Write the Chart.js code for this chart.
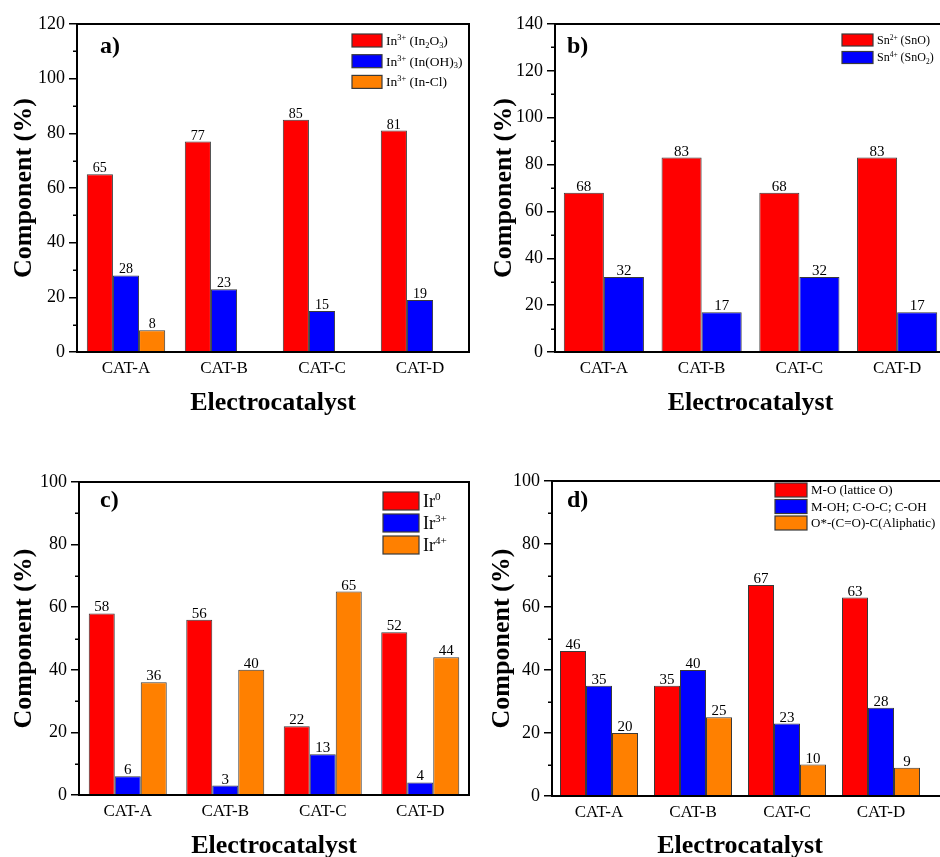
<!DOCTYPE html>
<html>
<head>
<meta charset="utf-8">
<title>XPS component fractions</title>
<script src="https://cdn.jsdelivr.net/npm/chart.js@4.4.1/dist/chart.umd.min.js"></script>
<style>
  html, body { margin: 0; padding: 0; background: #fff; }
  body { position: relative; width: 940px; height: 857px; overflow: hidden; }
  canvas { position: absolute; }
</style>
</head>
<body>
<canvas id="chartA" width="480" height="430" style="left:0px;top:0px"></canvas>
<canvas id="chartB" width="480" height="430" style="left:480px;top:0px"></canvas>
<canvas id="chartC" width="480" height="430" style="left:0px;top:440px"></canvas>
<canvas id="chartD" width="480" height="430" style="left:480px;top:440px"></canvas>
<script>
const categories = ['CAT-A', 'CAT-B', 'CAT-C', 'CAT-D'];

// a) In 3d
const inLabels = ['In^{3+} (In_{2}O_{3})', 'In^{3+} (In(OH)_{3})', 'In^{3+} (In-Cl)'];
const inOxide = [65, 77, 85, 81];
const inHydroxide = [28, 23, 15, 19];
const inChloride = [8, null, null, null];

// b) Sn 3d
const snLabels = ['Sn^{2+} (SnO)', 'Sn^{4+} (SnO_{2})'];
const snTwo = [68, 83, 68, 83];
const snFour = [32, 17, 32, 17];

// c) Ir 4f
const irLabels = ['Ir^{0}', 'Ir^{3+}', 'Ir^{4+}'];
const irZero = [58, 56, 22, 52];
const irThree = [6, 3, 13, 4];
const irFour = [36, 40, 65, 44];

// d) O 1s
const oLabels = ['M-O (lattice O)', 'M-OH; C-O-C; C-OH', 'O*-(C=O)-C(Aliphatic)'];
const oLattice = [46, 35, 67, 63];
const oHydroxyl = [35, 40, 23, 28];
const oCarbonyl = [20, 25, 10, 9];

const yMaxA = 120, yMaxB = 140, yMaxC = 100, yMaxD = 100;

const RED = '#ff0000', BLUE = '#0000ff', ORANGE = '#ff8000';
const SERIF = "'Liberation Serif', 'Times New Roman', serif";

// draws text with ^{..} superscripts and _{..} subscripts
function drawRich(ctx, text, x, midY, size) {
    const parts = text.split(/(\^\{[^}]*\}|_\{[^}]*\})/).filter(s => s.length);
    const base = midY + size * 0.33;
    ctx.textAlign = 'left';
    ctx.textBaseline = 'alphabetic';
    let cx = x;
    for (const p of parts) {
        let s = p, sz = size, dy = 0;
        if (p.startsWith('^{')) { s = p.slice(2, -1); sz = size * 0.62; dy = -size * 0.36; }
        else if (p.startsWith('_{')) { s = p.slice(2, -1); sz = size * 0.62; dy = size * 0.2; }
        ctx.font = `${sz}px ${SERIF}`;
        ctx.fillText(s, cx, base + dy);
        cx += ctx.measureText(s).width;
    }
}

function makePanel(id, p) {
    const datasets = p.series.map((data, i) => ({
        label: p.labels[i],
        data: data,
        backgroundColor: p.colors[i],
        borderColor: '#3a3a3a',
        borderWidth: 1,
        categoryPercentage: p.catPct,
        barPercentage: 1.0
    }));

    const decor = {
        id: 'decor',
        afterDatasetsDraw(chart) {
            const ctx = chart.ctx;
            // value labels above each bar
            ctx.save();
            ctx.fillStyle = '#000';
            ctx.font = `${p.valueSize}px ${SERIF}`;
            ctx.textAlign = 'center';
            ctx.textBaseline = 'alphabetic';
            chart.data.datasets.forEach((ds, di) => {
                chart.getDatasetMeta(di).data.forEach((el, i) => {
                    const v = ds.data[i];
                    if (v === null || v === undefined) return;
                    ctx.fillText(String(v), el.x, el.y - 2);
                });
            });
            ctx.restore();
        },
        afterDraw(chart) {
            const ctx = chart.ctx;
            const a = chart.chartArea;
            const yScale = chart.scales.y;
            ctx.save();
            // frame (panel d runs past the page edge)
            ctx.strokeStyle = '#000';
            ctx.lineWidth = 2;
            const right = a.right + (p.frameExtra || 0);
            ctx.strokeRect(a.left, a.top, right - a.left, a.bottom - a.top);
            // minor ticks
            ctx.lineWidth = 1.5;
            ctx.beginPath();
            for (let v = 10; v < p.yMax; v += 20) {
                const y = Math.round(yScale.getPixelForValue(v)) + 0.25;
                ctx.moveTo(a.left - 4, y);
                ctx.lineTo(a.left, y);
            }
            ctx.stroke();
            // panel letter
            ctx.fillStyle = '#000';
            ctx.font = `bold 24px ${SERIF}`;
            ctx.textAlign = 'left';
            ctx.textBaseline = 'alphabetic';
            ctx.fillText(p.letter, a.left + p.letterPos[0], a.top + p.letterPos[1]);
            // legend
            const L = p.legend;
            chart.data.datasets.forEach((ds, i) => {
                const cy = a.top + L.top + i * L.step;
                const bx = a.left + L.left;
                ctx.fillStyle = ds.backgroundColor;
                ctx.fillRect(bx, cy - L.boxH / 2, L.boxW, L.boxH);
                ctx.strokeStyle = '#3a3a3a';
                ctx.lineWidth = 1.2;
                ctx.strokeRect(bx, cy - L.boxH / 2, L.boxW, L.boxH);
                ctx.fillStyle = '#000';
                drawRich(ctx, ds.label, bx + L.boxW + 4, cy, L.size);
            });
            ctx.restore();
        }
    };

    return new Chart(document.getElementById(id), {
        type: 'bar',
        data: { labels: categories, datasets: datasets },
        plugins: [decor],
        options: {
            responsive: false,
            animation: false,
            devicePixelRatio: 1,
            layout: { padding: { top: p.padTop, right: p.padRight, left: 0, bottom: 0 } },
            plugins: { legend: { display: false }, tooltip: { enabled: false } },
            scales: {
                x: {
                    grid: { display: false, drawTicks: false },
                    border: { display: false },
                    ticks: { color: '#000', font: { family: SERIF, size: 17 }, padding: 6 },
                    title: {
                        display: true, text: 'Electrocatalyst', color: '#000',
                        font: { family: SERIF, size: 26, weight: 'bold' },
                        padding: { top: 0, bottom: p.xTitlePad }
                    },
                    afterFit: s => { s.height = p.xHeight; }
                },
                y: {
                    min: 0,
                    max: p.yMax,
                    ticks: { stepSize: 20, color: '#000', font: { family: SERIF, size: 18 }, padding: 4 },
                    grid: { drawOnChartArea: false, drawTicks: true, tickLength: 8, color: '#000', lineWidth: 1.5 },
                    border: { display: false },
                    title: {
                        display: true, text: 'Component (%)', color: '#000',
                        font: { family: SERIF, size: 26, weight: 'bold' },
                        padding: { top: p.yTitlePad, bottom: 0 }
                    },
                    afterFit: s => { s.width = p.yWidth; }
                }
            }
        }
    });
}

makePanel('chartA', {
    series: [inOxide, inHydroxide, inChloride], labels: inLabels, colors: [RED, BLUE, ORANGE],
    yMax: yMaxA, catPct: 0.8, padTop: 24, padRight: 11, yWidth: 77, xHeight: 78,
    xTitlePad: 11, yTitlePad: 9, valueSize: 14, letter: 'a)', letterPos: [23, 29],
    legend: { left: 275, top: 16.5, step: 20.7, boxW: 30, boxH: 13, size: 13.5 }
});

makePanel('chartB', {
    series: [snTwo, snFour], labels: snLabels, colors: [RED, BLUE],
    yMax: yMaxB, catPct: 0.82, padTop: 24, padRight: 14, yWidth: 75, xHeight: 78,
    xTitlePad: 11, yTitlePad: 8.5, valueSize: 15, letter: 'b)', letterPos: [12, 29],
    legend: { left: 287, top: 16, step: 17.5, boxW: 31, boxH: 12, size: 12 }
});

makePanel('chartC', {
    series: [irZero, irThree, irFour], labels: irLabels, colors: [RED, BLUE, ORANGE],
    yMax: yMaxC, catPct: 0.8, padTop: 42, padRight: 11, yWidth: 79, xHeight: 75,
    xTitlePad: 8, yTitlePad: 9, valueSize: 15, letter: 'c)', letterPos: [21, 25],
    legend: { left: 304, top: 19, step: 22, boxW: 36, boxH: 18, size: 18 }
});

makePanel('chartD', {
    series: [oLattice, oHydroxyl, oCarbonyl], labels: oLabels, colors: [RED, BLUE, ORANGE],
    yMax: yMaxD, catPct: 0.83, padTop: 41, padRight: 32, yWidth: 72, xHeight: 74,
    xTitlePad: 8, yTitlePad: 6.5, valueSize: 15, letter: 'd)', letterPos: [15, 26],
    frameExtra: 30,
    legend: { left: 223, top: 9, step: 16.5, boxW: 32, boxH: 14, size: 13 }
});
</script>
</body>
</html>
